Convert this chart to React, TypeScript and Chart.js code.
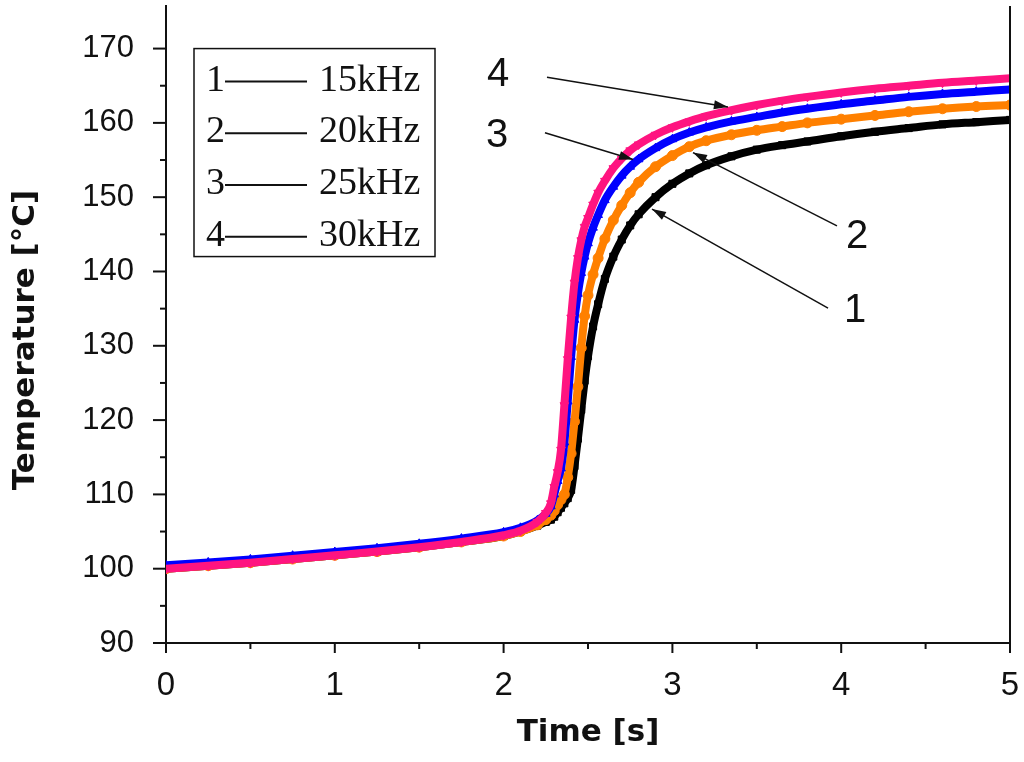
import React, { useEffect, useRef } from "react";
import { Chart, registerables } from "chart.js";

Chart.register(...registerables);

// ---- data ----
const timeS = [0, 0.25, 0.5, 0.75, 1.0, 1.25, 1.5, 1.75, 2.0, 2.1, 2.2, 2.25, 2.28, 2.3, 2.32, 2.34, 2.36, 2.38, 2.4, 2.42, 2.44, 2.46, 2.48, 2.5, 2.53, 2.56, 2.6, 2.65, 2.7, 2.75, 2.8, 2.9, 3.0, 3.1, 3.2, 3.35, 3.5, 3.65, 3.8, 4.0, 4.2, 4.4, 4.6, 4.8, 5.0];

const temp30kHz = [100.0, 100.4, 100.8, 101.3, 101.8, 102.3, 102.9, 103.6, 104.5, 105.1, 106.3, 107.5, 108.8, 111.0, 113.0, 116.0, 122.0, 128.2, 133.8, 138.5, 141.8, 144.2, 146.0, 147.2, 149.0, 150.6, 152.2, 153.9, 155.2, 156.3, 157.1, 158.4, 159.4, 160.2, 160.9, 161.7, 162.4, 163.0, 163.5, 164.1, 164.6, 165.0, 165.4, 165.7, 166.0];

const temp25kHz = [100.45, 100.85, 101.25, 101.75, 102.25, 102.75, 103.35, 104.05, 104.9, 105.5, 106.5, 107.4, 108.4, 110.0, 111.8, 113.5, 117.0, 122.5, 128.5, 133.5, 137.0, 139.8, 142.0, 143.8, 145.9, 147.6, 149.6, 151.4, 152.9, 154.1, 155.1, 156.6, 157.8, 158.7, 159.4, 160.2, 160.8, 161.4, 161.9, 162.5, 163.0, 163.5, 163.9, 164.2, 164.5];

const temp20kHz = [100.0, 100.4, 100.8, 101.3, 101.8, 102.3, 102.9, 103.6, 104.4, 105.0, 105.9, 106.6, 107.2, 107.8, 108.6, 109.3, 110.0, 112.3, 115.5, 119.8, 124.5, 129.7, 134.0, 136.8, 139.6, 141.8, 144.4, 146.9, 148.9, 150.6, 152.0, 154.1, 155.6, 156.8, 157.6, 158.4, 159.0, 159.5, 160.0, 160.5, 161.0, 161.5, 161.9, 162.2, 162.4];

const temp15kHz = [100.0, 100.4, 100.8, 101.3, 101.8, 102.3, 102.9, 103.6, 104.4, 105.0, 105.8, 106.3, 106.6, 107.0, 107.6, 108.2, 108.8, 109.5, 110.6, 113.8, 117.5, 121.4, 125.3, 128.6, 132.6, 135.6, 139.0, 142.0, 144.3, 146.2, 147.7, 150.0, 151.8, 153.2, 154.3, 155.5, 156.4, 157.0, 157.5, 158.2, 158.8, 159.3, 159.8, 160.1, 160.4];

const legendNumbers = ["1", "2", "3", "4"];
const legendNames = ["15kHz", "20kHz", "25kHz", "30kHz"];

const xMajorTicks = [0, 1, 2, 3, 4, 5];
const xMinorTicks = [0.5, 1.5, 2.5, 3.5, 4.5];
const yMajorTicks = [90, 100, 110, 120, 130, 140, 150, 160, 170];
const yMinorTicks = [95, 105, 115, 125, 135, 145, 155, 165];

// callouts in data units: label position, line start, arrow tip
const calloutLabels = ["4", "3", "2", "1"];
const calloutText = [[1.967, 166.4], [1.961, 158.3], [4.094, 144.7], [4.082, 134.7]];
const calloutFrom = [[2.257, 166.13], [2.245, 158.67], [3.975, 146.13], [3.922, 135.07]];
const calloutTo = [[3.329, 162.13], [2.767, 155.07], [3.122, 156.0], [2.879, 148.4]];

const COLORS = { c30: "#ff1480", c25: "#0000ff", c20: "#ff8000", c15: "#000000" };
const INK = "#111111";

const toXY = (vals: number[]) => timeS.map((t, i) => ({ x: t, y: vals[i] }));

const decorPlugin = {
  id: "decor",
  afterDraw(chart: any) {
    const { ctx, chartArea: ca, scales } = chart;
    const xs = scales.x;
    const ys = scales.y;
    const line = (x0: number, y0: number, x1: number, y1: number) => {
      ctx.beginPath();
      ctx.moveTo(x0, y0);
      ctx.lineTo(x1, y1);
      ctx.stroke();
    };
    ctx.save();
    ctx.strokeStyle = INK;
    ctx.fillStyle = INK;
    ctx.lineWidth = 2;
    // right frame
    line(ca.right, ca.top, ca.right, ca.bottom + 1);
    // ticks
    xMajorTicks.forEach((v) => {
      const px = xs.getPixelForValue(v);
      line(px, ca.bottom, px, ca.bottom + 10);
    });
    xMinorTicks.forEach((v) => {
      const px = xs.getPixelForValue(v);
      line(px, ca.bottom, px, ca.bottom + 6);
    });
    yMajorTicks.forEach((v) => {
      const py = ys.getPixelForValue(v);
      line(ca.left - 13, py, ca.left, py);
    });
    yMinorTicks.forEach((v) => {
      const py = ys.getPixelForValue(v);
      line(ca.left - 6, py, ca.left, py);
    });

    // legend box
    const lx = ca.left + 28;
    const ly = ys.getPixelForValue(170);
    ctx.lineWidth = 1.5;
    ctx.strokeRect(lx, ly, 241, 208);
    ctx.font = '38px "Liberation Serif"';
    ctx.textBaseline = "alphabetic";
    ctx.textAlign = "left";
    legendNumbers.forEach((n, i) => {
      const base = ly + 42 + i * 51.7;
      ctx.fillText(n, lx + 12, base);
      ctx.lineWidth = 2;
      line(lx + 31, base - 9, lx + 113, base - 9);
      ctx.fillText(legendNames[i], lx + 125, base);
    });

    // callouts
    ctx.lineWidth = 1.5;
    calloutLabels.forEach((lab, i) => {
      const x0 = xs.getPixelForValue(calloutFrom[i][0]);
      const y0 = ys.getPixelForValue(calloutFrom[i][1]);
      const x1 = xs.getPixelForValue(calloutTo[i][0]);
      const y1 = ys.getPixelForValue(calloutTo[i][1]);
      line(x0, y0, x1, y1);
      const a = Math.atan2(y1 - y0, x1 - x0);
      const L = 14;
      const W = 4.5;
      const bx = x1 - L * Math.cos(a);
      const by = y1 - L * Math.sin(a);
      ctx.beginPath();
      ctx.moveTo(x1, y1);
      ctx.lineTo(bx + W * Math.sin(a), by - W * Math.cos(a));
      ctx.lineTo(bx - W * Math.sin(a), by + W * Math.cos(a));
      ctx.closePath();
      ctx.fill();
      ctx.font = '40px "Liberation Sans"';
      ctx.textAlign = "center";
      ctx.textBaseline = "middle";
      ctx.fillText(lab, xs.getPixelForValue(calloutText[i][0]), ys.getPixelForValue(calloutText[i][1]));
    });

    // axis titles
    ctx.font = 'bold 31px "DejaVu Sans"';
    ctx.textAlign = "center";
    ctx.textBaseline = "middle";
    ctx.fillText("Time [s]", (ca.left + ca.right) / 2, ca.bottom + 90);
    ctx.save();
    ctx.translate(26, ca.bottom - 303);
    ctx.rotate(-Math.PI / 2);
    ctx.fillText("Temperature [°C]", 0, 0);
    ctx.restore();

    ctx.restore();
  },
};

export default function App() {
  const canvasRef = useRef<HTMLCanvasElement | null>(null);

  useEffect(() => {
    document.body.style.margin = "0";
    const canvas = canvasRef.current;
    if (!canvas) return;
    const mk = (label: string, vals: number[], color: string, style: string, rot: number) => ({
      label,
      data: toXY(vals),
      borderColor: color,
      backgroundColor: color,
      pointBackgroundColor: color,
      pointBorderColor: color,
      borderWidth: 8,
      pointStyle: style,
      pointRotation: rot,
      pointRadius: 5,
      pointBorderWidth: 1,
      cubicInterpolationMode: "monotone",
      fill: false,
    });
    const chart = new Chart(canvas, {
      type: "line",
      data: {
        datasets: [
          mk("30kHz", temp30kHz, COLORS.c30, "triangle", 180),
          mk("25kHz", temp25kHz, COLORS.c25, "triangle", 0),
          mk("20kHz", temp20kHz, COLORS.c20, "circle", 0),
          mk("15kHz", temp15kHz, COLORS.c15, "rect", 0),
        ] as any,
      },
      options: {
        animation: false,
        responsive: false,
        layout: { padding: { left: 0, right: 14, top: 0, bottom: 0 } },
        plugins: { legend: { display: false }, tooltip: { enabled: false } },
        scales: {
          x: {
            type: "linear",
            min: 0,
            max: 5,
            afterFit: (s: any) => {
              s.height = 119;
              s.paddingLeft = 0;
              s.paddingRight = 0;
            },
            grid: { display: false },
            border: { display: true, color: INK, width: 2 },
            ticks: {
              stepSize: 1,
              padding: 18,
              color: INK,
              maxRotation: 0,
              autoSkip: false,
              font: { family: "Liberation Sans", size: 33, lineHeight: 1 },
            },
          },
          y: {
            type: "linear",
            min: 90,
            max: 175.73,
            afterFit: (s: any) => {
              s.width = 166;
              s.paddingTop = 0;
              s.paddingBottom = 0;
            },
            grid: { display: false },
            border: { display: true, color: INK, width: 2 },
            ticks: {
              stepSize: 10,
              includeBounds: false,
              padding: 24,
              color: INK,
              font: { family: "Liberation Sans", size: 31 },
              callback: (v: any) => (Number(v) <= 170 ? String(v) : ""),
            },
          },
        },
      } as any,
      plugins: [decorPlugin],
    });
    return () => chart.destroy();
  }, []);

  return (
    <div style={{ width: 1024, height: 762 }}>
      <canvas ref={canvasRef} width={1024} height={762} style={{ display: "block" }} />
    </div>
  );
}
